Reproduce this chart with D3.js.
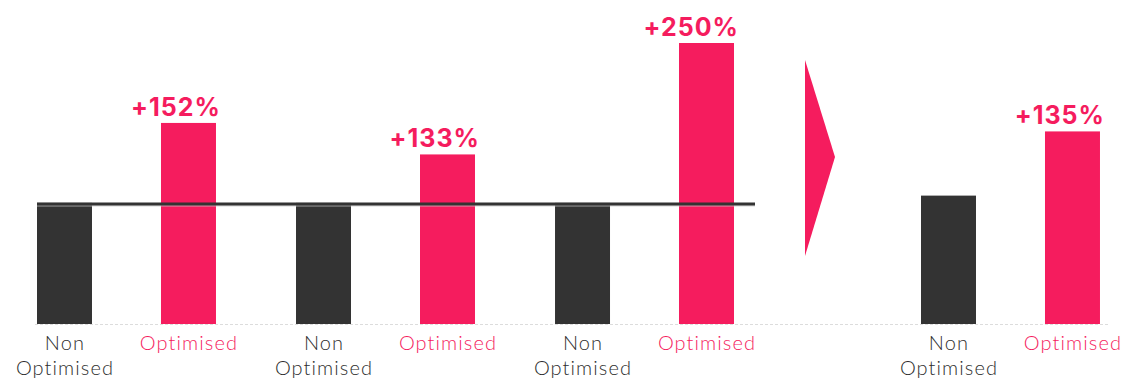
<!DOCTYPE html>
<html><head><meta charset="utf-8">
<script src="https://cdn.jsdelivr.net/npm/d3@7"></script>
<style>
html,body{margin:0;padding:0;background:#fff;}
svg{display:block;}
</style></head>
<body>
<svg id="chart" width="1128" height="379"></svg>
<script>
// ---- data ----
const groupsLeft = ["Case A", "Case B", "Case C"];
const groupsRight = ["Overall"];
const subCategories = ["Non Optimised", "Optimised"];
const nonOptimisedValues = [100, 100, 100, 106];
const optimisedValues = [166, 140, 232, 159];
const upliftLabels = ["+152%", "+133%", "+250%", "+135%"];
const referenceValue = 100;

// ---- setup ----
const W = 1128, H = 379;
const pink = "#F51C5E", dark = "#333333";
const svg = d3.select("#chart");
const baseY = 324;

const y = d3.scaleLinear().domain([0, 232]).range([baseY, 43]);

const xLeft = d3.scaleBand().domain(groupsLeft).range([37, 734]).paddingInner(0.309).paddingOuter(0);
const xRight = d3.scaleBand().domain(groupsRight).range([921, 1100]).paddingInner(0).paddingOuter(0);
const xSub = d3.scaleBand().domain(subCategories).range([0, xLeft.bandwidth()]).paddingInner(0.5565).paddingOuter(0);

const rows = [];
groupsLeft.concat(groupsRight).forEach((g, i) => {
  const gx = i < groupsLeft.length ? xLeft(g) : xRight(g);
  rows.push({g, sub: subCategories[0], v: nonOptimisedValues[i], x: gx + xSub(subCategories[0]), lab: null});
  rows.push({g, sub: subCategories[1], v: optimisedValues[i], x: gx + xSub(subCategories[1]), lab: upliftLabels[i]});
});

// dashed baseline
svg.append("line")
  .attr("x1", 35).attr("x2", 1110)
  .attr("y1", baseY + 0.5).attr("y2", baseY + 0.5)
  .attr("stroke", "#dcdcdc").attr("stroke-width", 1).attr("stroke-dasharray", "3,2");

// bars
svg.selectAll("rect.bar").data(rows).enter().append("rect")
  .attr("class", "bar")
  .attr("x", d => d.x)
  .attr("width", xSub.bandwidth())
  .attr("y", d => y(d.v))
  .attr("height", d => y(0) - y(d.v))
  .attr("fill", d => d.sub === subCategories[0] ? dark : pink);

// reference line
const refY = y(referenceValue) + 1;
svg.append("line")
  .attr("x1", 37).attr("x2", 755)
  .attr("y1", refY + 2).attr("y2", refY + 2)
  .attr("stroke", "#c8c8c8").attr("stroke-width", 1);
svg.append("line")
  .attr("x1", 37).attr("x2", 755)
  .attr("y1", refY).attr("y2", refY)
  .attr("stroke", dark).attr("stroke-width", 3);

// uplift labels (right-aligned near bar's right edge)
svg.selectAll("text.uplift").data(rows.filter(d => d.lab)).enter().append("text")
  .attr("class", "uplift")
  .attr("x", d => d.x + xSub.bandwidth() + 5)
  .attr("y", d => y(d.v) - 7)
  .attr("text-anchor", "end")
  .attr("font-family", "Inter, Lato, sans-serif")
  .attr("font-weight", 700)
  .attr("font-size", 25)
  .attr("letter-spacing", 1)
  .attr("fill", pink)
  .text(d => d.lab);

// category labels
const catLines = [];
rows.forEach(d => {
  const lines = d.sub === subCategories[0] ? ["Non", "Optimised"] : ["Optimised"];
  lines.forEach((l, i) => catLines.push({d, l, i}));
});
svg.selectAll("text.cat").data(catLines).enter().append("text")
  .attr("class", "cat")
  .attr("text-anchor", "middle")
  .attr("font-family", "Lato, 'Open Sans', sans-serif")
  .attr("font-weight", 300)
  .attr("font-size", 20)
  .attr("letter-spacing", 1.1)
  .attr("fill", c => c.d.sub === subCategories[0] ? "#2e2e2e" : pink)
  .attr("x", c => c.d.x + xSub.bandwidth() / 2 + 0.5)
  .attr("y", c => 350 + c.i * 24.5)
  .text(c => c.l);

// arrow triangle
const triX = 805, triTop = 60, triBot = 256, triTip = 835;
svg.append("path")
  .attr("d", d3.line()([[triX, triTop], [triTip, (triTop + triBot) / 2 - 1], [triX, triBot]]) + "Z")
  .attr("fill", pink);
</script>
</body></html>
